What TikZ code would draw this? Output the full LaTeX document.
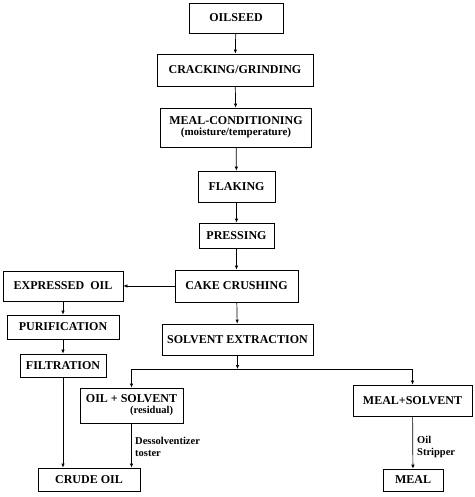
\documentclass[tikz,border=0pt]{standalone}
\usepackage{fontspec}
\setmainfont{Liberation Serif}
\usetikzlibrary{arrows.meta}
\tikzset{
  stage/.style={draw, line width=0.7pt, fill=white, inner sep=1pt, font=\fontsize{12}{13}\selectfont\bfseries},
  note/.style={font=\fontsize{10.5}{12}\selectfont\bfseries, align=left, anchor=west, inner sep=0pt},
  flow/.style={line width=0.7pt, -{Latex[length=4pt, width=3.5pt]}}
}

\begin{document}
\begin{tikzpicture}[x=1pt, y=1pt]
  \useasboundingbox (0,0) rectangle (474,-497);
  \node[stage, minimum width=94pt, minimum height=30pt] (seed) at (236,-18) {OILSEED};
  \node[stage, minimum width=156pt, minimum height=32pt] (crack) at (235,-70) {CRACKING/GRINDING};
  \node[stage, minimum width=151pt, minimum height=39pt, align=center] (cond) at (236,-127.5) {MEAL-CONDITIONING\\[-2pt]{\fontsize{11}{12}\selectfont (moisture/temperature)}};
  \node[stage, minimum width=77pt, minimum height=31pt] (flake) at (236.5,-186.5) {FLAKING};
  \node[stage, minimum width=75pt, minimum height=25pt] (press) at (236.5,-235.5) {PRESSING};
  \node[stage, minimum width=123pt, minimum height=32pt] (cake) at (236.5,-286) {CAKE CRUSHING};
  \node[stage, minimum width=120pt, minimum height=30pt] (expr) at (63,-286) {EXPRESSED~~OIL};
  \node[stage, minimum width=112pt, minimum height=24pt] (purif) at (63,-327) {PURIFICATION};
  \node[stage, minimum width=86pt, minimum height=23pt] (filt) at (63,-365.5) {FILTRATION};
  \node[stage, minimum width=151pt, minimum height=31pt] (solv) at (237.5,-339.5) {SOLVENT EXTRACTION};
  \node[stage, minimum width=103pt, minimum height=35pt, align=right] (oilsolv) at (131.5,-405.5) {OIL + SOLVENT\\[-2pt]{\fontsize{10.5}{11}\selectfont (residual)}\hspace*{4pt}};
  \node[stage, minimum width=119pt, minimum height=31pt] (mealsolv) at (412.5,-400.5) {MEAL+SOLVENT};
  \node[stage, minimum width=102pt, minimum height=23pt] (crude) at (89,-479.5) {CRUDE OIL};
  \node[stage, minimum width=60pt, minimum height=22pt] (meal) at (413,-480) {MEAL};
  \coordinate (split) at (237.5,-369);
  % main line
  \draw[flow] (seed) -- (crack);
  \draw[flow] (crack) -- (cond);
  \draw[flow] (cond) -- (flake);
  \draw[flow] (flake) -- (press);
  \draw[flow] (press) -- (cake);
  \draw[flow] (cake) -- (expr);
  \draw[flow] (cake) -- (solv);
  % expressed oil
  \draw[flow] (expr) -- (purif);
  \draw[flow] (purif) -- (filt);
  \draw[flow] (filt.south) -- (filt.south |- crude.north);
  % extraction
  \draw[flow] (solv) -- (split);
  \draw[flow] (split) -| (oilsolv.north);
  \draw[flow] (split) -| (mealsolv.north);
  \draw[flow] (oilsolv.south) -- (oilsolv.south |- crude.north);
  \draw[flow] (mealsolv) -- (meal);
  \node[note] (dessolv) at (135,-447) {Dessolventizer\\toster};
  \node[note] (strip) at (417,-447) {Oil\\Stripper};
\end{tikzpicture}
\end{document}
